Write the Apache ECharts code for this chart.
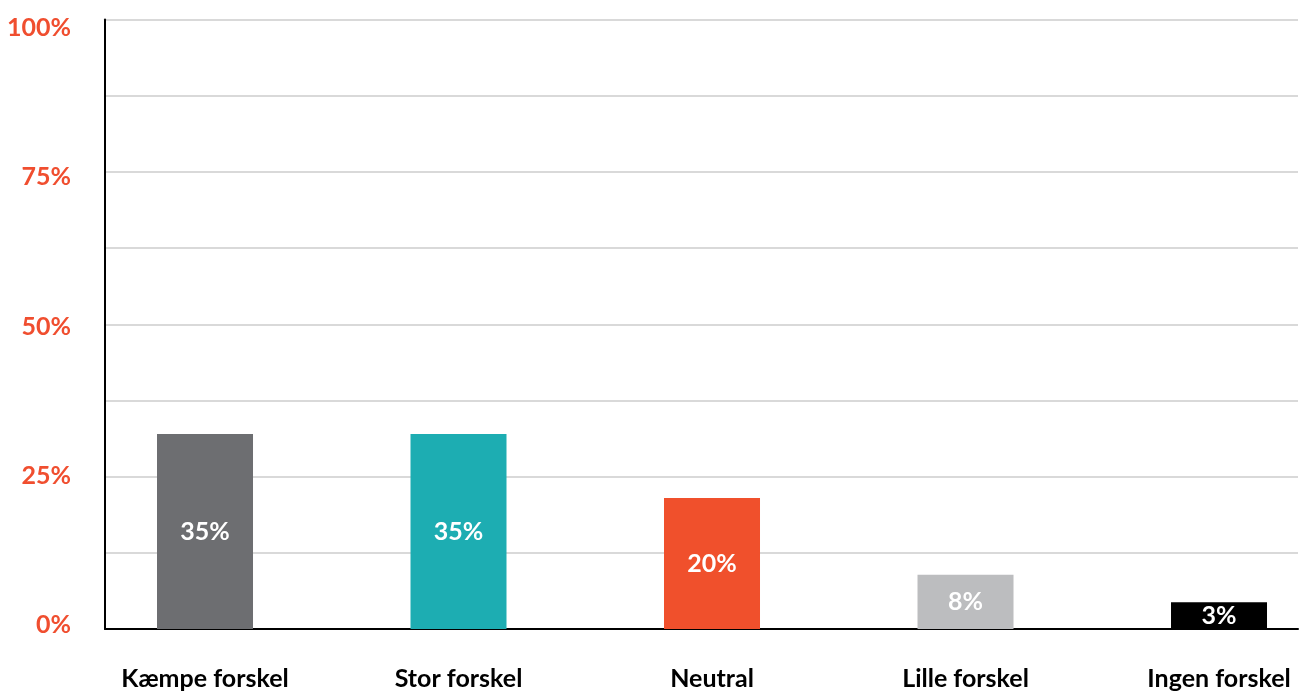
<!DOCTYPE html>
<html>
<head>
<meta charset="utf-8">
<script src="https://cdn.jsdelivr.net/npm/echarts@6/dist/echarts.min.js"></script>
<style>html,body{margin:0;padding:0;background:#fff}#c{width:1301px;height:692px}</style>
</head>
<body>
<div id="c"></div>
<script>
const categories = ['Kæmpe forskel', 'Stor forskel', 'Neutral', 'Lille forskel', 'Ingen forskel'];
const barValues = [32.0, 32.0, 21.5, 8.9, 4.4];
const barLabels = ['35%', '35%', '20%', '8%', '3%'];
const barColors = ['#6D6E71', '#1DADB2', '#F0502C', '#BCBDBF', '#000000'];
const yTicks = [0, 25, 50, 75, 100];

const FONT = 'Lato';
const catIdx = categories.map((c, i) => i);
const chart = echarts.init(document.getElementById('c'), null, {renderer: 'canvas'});
chart.setOption({
  animation: false,
  grid: [
    {left: 105, right: 3, top: 19.5, bottom: 63},
    {left: 105, right: 3, top: 19.5, bottom: 63},
    {left: 105, right: 3, top: 28, bottom: 67}
  ],
  xAxis: [
    {gridIndex: 0, type: 'category', data: categories, boundaryGap: true,
     axisLine: {show: true, lineStyle: {color: '#000', width: 2}},
     axisTick: {show: false}, axisLabel: {show: false}, splitLine: {show: false}},
    {gridIndex: 1, type: 'value', min: -0.3945, max: 4.3116,
     axisLine: {show: false}, axisTick: {show: false}, splitLine: {show: false},
     axisLabel: {show: true, margin: 37, color: '#000', fontFamily: FONT, fontWeight: 'bold', fontSize: 25,
       customValues: catIdx, showMinLabel: true, showMaxLabel: true, hideOverlap: false,
       formatter: v => categories[Math.round(v)] || ''}},
    {gridIndex: 2, type: 'category', data: categories, show: false}
  ],
  yAxis: [
    {gridIndex: 0, type: 'value', min: 0, max: 100, interval: 12.5,
     axisLine: {show: true, lineStyle: {color: '#000', width: 2}},
     axisTick: {show: false}, axisLabel: {show: false},
     splitLine: {show: true, lineStyle: {color: '#D9D9D9', width: 2}}},
    {gridIndex: 1, type: 'value', min: 0, max: 100, show: false},
    {gridIndex: 2, type: 'value', min: 0, max: 100, interval: 25,
     axisLine: {show: false}, axisTick: {show: false}, splitLine: {show: false},
     axisLabel: {show: true, margin: 34, color: '#F04E2F', fontFamily: FONT, fontWeight: 'bold', fontSize: 25,
       customValues: yTicks, formatter: v => v + '%'}}
  ],
  series: [{
    type: 'bar', xAxisIndex: 1, yAxisIndex: 1,
    barWidth: 96,
    data: barValues.map((v, i) => ({value: [catIdx[i], v], itemStyle: {color: barColors[i]}})),
    label: {show: true, position: 'inside', color: '#fff', fontFamily: FONT, fontWeight: 'bold', fontSize: 25,
      formatter: p => barLabels[p.dataIndex]}
  }]
});
</script>
</body>
</html>
